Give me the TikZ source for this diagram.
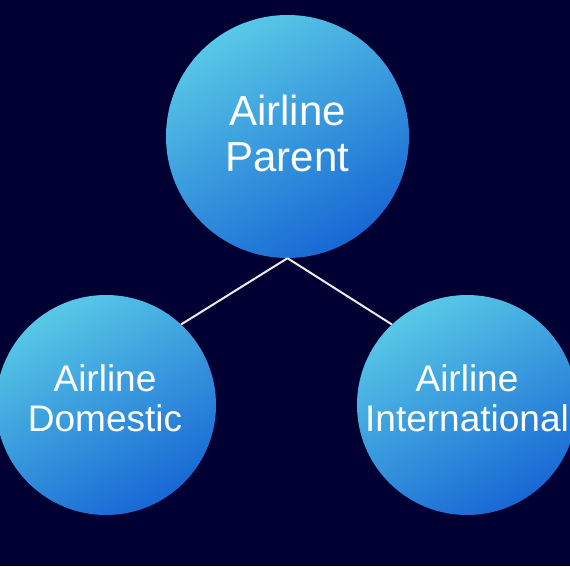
\documentclass[tikz,border=0pt]{standalone}
\usepackage{fontspec}
\setmainfont{Liberation Sans}
\definecolor{bgnavy}{RGB}{1,0,50}
\definecolor{lightc}{RGB}{88,200,230}
\definecolor{deepc}{RGB}{24,104,212}
\definecolor{linec}{RGB}{235,235,240}
\tikzset{
  x=1pt, y=1pt,
  bubble/.style={circle, draw=none, inner sep=0pt, top color=lightc, bottom color=deepc, shading angle=30},
  bigbubble/.style={bubble, minimum size=243pt},
  smallbubble/.style={bubble, minimum size=220pt},
  toplabel/.style={text=white, align=center, inner sep=0pt, font=\fontsize{42}{46}\selectfont},
  sublabel/.style={text=white, align=center, inner sep=0pt, font=\fontsize{37}{40}\selectfont},
  link/.style={draw=linec, line width=2pt}
}
\begin{document}
\begin{tikzpicture}
\fill[bgnavy] (0,0) rectangle (570,566);
\useasboundingbox (0,0) rectangle (570,566);
\clip (0,0) rectangle (570,566);
\node[bigbubble] (parent) at (287.5,429.5) {};
\node[smallbubble] (dom) at (106,161) {};
\node[smallbubble] (intl) at (467,161) {};
\node[toplabel] (tparent) at (287.5,432.5) {Airline\\Parent};
\node[sublabel] (tdom) at (105,168) {Airline\\Domestic};
\node[sublabel] (tintl) at (467,168) {Airline\\International};
\draw[link] (parent.south) -- (dom.47);
\draw[link] (parent.south) -- (intl.133);
\end{tikzpicture}
\end{document}
